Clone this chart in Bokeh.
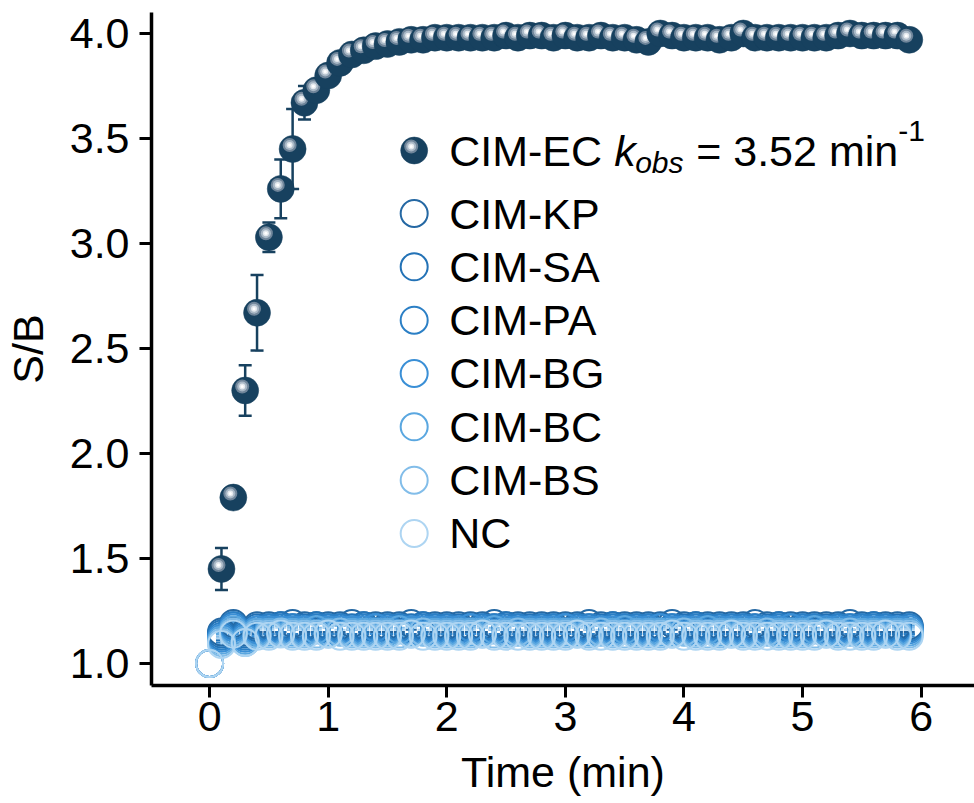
from bokeh.plotting import figure
from bokeh.models import Range1d, FixedTicker, PrintfTickFormatter, ColumnDataSource, Whisker, TeeHead
from bokeh.core.properties import value
from bokeh.embed import file_html
from bokeh.resources import INLINE

FONT = "Liberation Sans"

# sampling times (min)
time_all = [0.0, 0.1, 0.2, 0.3, 0.4, 0.5, 0.6, 0.7, 0.8, 0.9,
            1.0, 1.1, 1.2, 1.3, 1.4, 1.5, 1.6, 1.7, 1.8, 1.9,
            2.0, 2.1, 2.2, 2.3, 2.4, 2.5, 2.6, 2.7, 2.8, 2.9,
            3.0, 3.1, 3.2, 3.3, 3.4, 3.5, 3.6, 3.7, 3.8, 3.9,
            4.0, 4.1, 4.2, 4.3, 4.4, 4.5, 4.6, 4.7, 4.8, 4.9,
            5.0, 5.1, 5.2, 5.3, 5.4, 5.5, 5.6, 5.7, 5.8, 5.9]
time_ec = time_all[1:]

# CIM-EC signal/background (t = 0.1 ... 5.9)
sb_ec = [1.45, 1.79, 2.30, 2.67, 3.03, 3.26, 3.45, 3.67, 3.73,
         3.80, 3.86, 3.90, 3.92, 3.94, 3.95, 3.96, 3.97, 3.97, 3.98,
         3.98, 3.98, 3.98, 3.98, 3.98, 3.99, 3.98, 3.99, 3.99, 3.98,
         3.99, 3.98, 3.98, 3.99, 3.98, 3.98, 3.97, 3.96, 4.00, 3.99,
         3.98, 3.98, 3.98, 3.97, 3.98, 4.00, 3.98, 3.98, 3.98, 3.98,
         3.98, 3.98, 3.98, 3.99, 4.00, 3.99, 3.99, 3.99, 3.99, 3.97]
err_ec = [0.10, 0.02, 0.12, 0.18, 0.07, 0.14, 0.19, 0.08, 0.04,
          0.03, 0.02, 0.02, 0.01, 0.01, 0.01, 0.01, 0.01, 0.01, 0.01,
          0.01, 0.01, 0.01, 0.01, 0.01, 0.01, 0.01, 0.01, 0.01, 0.01,
          0.01, 0.01, 0.01, 0.01, 0.01, 0.01, 0.01, 0.01, 0.01, 0.01,
          0.01, 0.01, 0.01, 0.01, 0.01, 0.01, 0.01, 0.01, 0.01, 0.01,
          0.01, 0.01, 0.01, 0.01, 0.01, 0.01, 0.01, 0.01, 0.01, 0.01]

# other strains and the negative control (t = 0 ... 5.9)
sb_kp = [1.00, 1.15, 1.19, 1.15, 1.18, 1.18, 1.18, 1.19, 1.18, 1.18,
         1.18, 1.18, 1.19, 1.18, 1.18, 1.18, 1.18, 1.19, 1.18, 1.18,
         1.18, 1.18, 1.18, 1.18, 1.19, 1.18, 1.18, 1.18, 1.18, 1.18,
         1.18, 1.18, 1.19, 1.18, 1.18, 1.18, 1.18, 1.18, 1.18, 1.19,
         1.18, 1.18, 1.18, 1.18, 1.18, 1.18, 1.19, 1.18, 1.18, 1.18,
         1.18, 1.18, 1.18, 1.18, 1.19, 1.18, 1.18, 1.18, 1.18, 1.18]
sb_sa = [1.00, 1.14, 1.18, 1.14, 1.17, 1.17, 1.18, 1.17, 1.17, 1.18,
         1.17, 1.17, 1.17, 1.18, 1.17, 1.17, 1.17, 1.17, 1.18, 1.17,
         1.17, 1.17, 1.17, 1.17, 1.17, 1.18, 1.17, 1.17, 1.17, 1.17,
         1.17, 1.17, 1.17, 1.17, 1.18, 1.17, 1.17, 1.17, 1.17, 1.17,
         1.17, 1.18, 1.17, 1.17, 1.17, 1.17, 1.17, 1.17, 1.18, 1.17,
         1.17, 1.17, 1.17, 1.17, 1.17, 1.17, 1.18, 1.17, 1.17, 1.17]
sb_pa = [1.00, 1.13, 1.18, 1.13, 1.16, 1.17, 1.17, 1.17, 1.16, 1.17,
         1.17, 1.17, 1.16, 1.17, 1.17, 1.17, 1.17, 1.16, 1.17, 1.17,
         1.17, 1.16, 1.17, 1.17, 1.17, 1.17, 1.17, 1.16, 1.17, 1.17,
         1.17, 1.17, 1.17, 1.16, 1.17, 1.17, 1.17, 1.17, 1.17, 1.17,
         1.16, 1.17, 1.17, 1.17, 1.17, 1.17, 1.17, 1.16, 1.17, 1.17,
         1.17, 1.17, 1.16, 1.17, 1.17, 1.17, 1.17, 1.17, 1.16, 1.17]
sb_bg = [1.00, 1.12, 1.17, 1.12, 1.16, 1.16, 1.16, 1.16, 1.16, 1.16,
         1.16, 1.16, 1.16, 1.16, 1.17, 1.16, 1.16, 1.16, 1.16, 1.16,
         1.16, 1.16, 1.17, 1.16, 1.16, 1.16, 1.16, 1.16, 1.16, 1.16,
         1.17, 1.16, 1.16, 1.16, 1.16, 1.16, 1.16, 1.16, 1.17, 1.16,
         1.16, 1.16, 1.16, 1.16, 1.16, 1.16, 1.16, 1.16, 1.16, 1.17,
         1.16, 1.16, 1.16, 1.16, 1.16, 1.16, 1.16, 1.16, 1.16, 1.16]
sb_bc = [1.00, 1.11, 1.16, 1.11, 1.15, 1.15, 1.15, 1.15, 1.15, 1.16,
         1.15, 1.15, 1.15, 1.15, 1.15, 1.15, 1.16, 1.15, 1.15, 1.15,
         1.15, 1.15, 1.15, 1.15, 1.16, 1.15, 1.15, 1.15, 1.15, 1.15,
         1.15, 1.15, 1.15, 1.15, 1.15, 1.16, 1.15, 1.15, 1.15, 1.15,
         1.15, 1.15, 1.16, 1.15, 1.15, 1.15, 1.15, 1.15, 1.15, 1.15,
         1.15, 1.16, 1.15, 1.15, 1.15, 1.15, 1.15, 1.15, 1.15, 1.15]
sb_bs = [1.00, 1.10, 1.15, 1.10, 1.14, 1.14, 1.15, 1.14, 1.14, 1.14,
         1.14, 1.15, 1.14, 1.14, 1.14, 1.14, 1.14, 1.14, 1.15, 1.14,
         1.14, 1.14, 1.14, 1.14, 1.14, 1.14, 1.15, 1.14, 1.14, 1.14,
         1.14, 1.14, 1.14, 1.15, 1.14, 1.14, 1.14, 1.14, 1.14, 1.14,
         1.15, 1.14, 1.14, 1.14, 1.14, 1.14, 1.14, 1.15, 1.14, 1.14,
         1.14, 1.14, 1.14, 1.14, 1.15, 1.14, 1.14, 1.14, 1.14, 1.14]
sb_nc = [1.00, 1.09, 1.14, 1.10, 1.13, 1.13, 1.14, 1.13, 1.13, 1.13,
         1.14, 1.13, 1.13, 1.13, 1.13, 1.13, 1.13, 1.14, 1.13, 1.13,
         1.13, 1.13, 1.13, 1.14, 1.13, 1.13, 1.13, 1.13, 1.13, 1.13,
         1.13, 1.14, 1.13, 1.13, 1.13, 1.13, 1.13, 1.13, 1.13, 1.14,
         1.13, 1.13, 1.13, 1.13, 1.14, 1.13, 1.13, 1.13, 1.13, 1.13,
         1.13, 1.13, 1.14, 1.13, 1.13, 1.13, 1.13, 1.14, 1.13, 1.13]

open_names = ["CIM-KP", "CIM-SA", "CIM-PA", "CIM-BG", "CIM-BC", "CIM-BS", "NC"]
open_values = [sb_kp, sb_sa, sb_pa, sb_bg, sb_bc, sb_bs, sb_nc]
# typical standard deviation after t = 0 (t = 0 is the normalisation point, no bar)
open_errors = [0.03, 0.03, 0.03, 0.03, 0.03, 0.03, 0.03]
open_colors = ["#2568a3", "#2372b6", "#2b7fc5", "#3a8fd6", "#5aa7e0", "#82bde9", "#aed5f2"]

ec_name = "CIM-EC"
ec_kobs = "3.52"
EC_COLOR = "#17415f"
# glossy highlight layers drawn on each EC sphere: (size px, colour)
highlight = [(14, "#6f859a"), (10, "#a9b8c6"), (6, "#e4e9ee"), (3, "#ffffff")]

x_ticks = [0, 1, 2, 3, 4, 5, 6]
y_ticks = [1.0, 1.5, 2.0, 2.5, 3.0, 3.5, 4.0]

X0, X1 = -0.49, 6.45
Y0, Y1 = 0.895, 4.10
W, H = 974, 803
BL, BR, BT, BB = 150, 0, 12, 118
px_x = (W - BL - BR) / (X1 - X0)
px_y = (H - BT - BB) / (Y1 - Y0)

p = figure(width=W, height=H, x_range=Range1d(X0, X1), y_range=Range1d(Y0, Y1),
           output_backend="svg", toolbar_location=None,
           min_border_left=BL, min_border_right=BR, min_border_top=BT, min_border_bottom=BB)
p.outline_line_color = None
p.xgrid.visible = False
p.ygrid.visible = False
p.background_fill_color = "white"
p.border_fill_color = "white"

for ax in (p.xaxis[0], p.yaxis[0]):
    ax.axis_line_width = 3.5
    ax.axis_line_color = "black"
    ax.major_tick_line_width = 3
    ax.major_tick_line_color = "black"
    ax.major_tick_out = 12
    ax.major_tick_in = 0
    ax.minor_tick_line_color = None
    ax.major_label_text_font = FONT
    ax.major_label_text_font_size = "43px"
    ax.major_label_text_color = "black"
    ax.axis_label_text_font = FONT
    ax.axis_label_text_font_size = "43px"
    ax.axis_label_text_font_style = "normal"
    ax.axis_label_text_color = "black"

p.xaxis.ticker = FixedTicker(ticks=x_ticks)
p.yaxis.ticker = FixedTicker(ticks=y_ticks)
p.yaxis.formatter = PrintfTickFormatter(format="%.1f")
p.xaxis.axis_label = "Time (min)"
p.yaxis.axis_label = "S/B"
p.xaxis.major_label_standoff = 4
p.xaxis.axis_label_standoff = 14
p.yaxis.major_label_standoff = 10
p.yaxis.axis_label_standoff = 15

# open-circle series with their error bars
for name, vals, err, col in zip(open_names, open_values, open_errors, open_colors):
    src = ColumnDataSource(dict(t=time_all, v=vals))
    bar_src = ColumnDataSource(dict(t=time_all[1:],
                                    lo=[v - err for v in vals[1:]],
                                    hi=[v + err for v in vals[1:]]))
    p.add_layout(Whisker(source=bar_src, base="t", lower="lo", upper="hi", dimension="height",
                         line_color=col, line_width=2, level="underlay",
                         upper_head=TeeHead(size=11, line_color=col, line_width=2),
                         lower_head=TeeHead(size=11, line_color=col, line_width=2)))
    p.scatter("t", "v", source=src, size=27, fill_color=None, line_color=col, line_width=2)

# CIM-EC error bars, then each sphere drawn in turn so the next one overlaps it
ec_src = ColumnDataSource(dict(t=time_ec, v=sb_ec,
                               lo=[v - e for v, e in zip(sb_ec, err_ec)],
                               hi=[v + e for v, e in zip(sb_ec, err_ec)]))
p.add_layout(Whisker(source=ec_src, base="t", lower="lo", upper="hi", dimension="height",
                     line_color=EC_COLOR, line_width=2.5, level="underlay",
                     upper_head=TeeHead(size=13, line_color=EC_COLOR, line_width=2.5),
                     lower_head=TeeHead(size=13, line_color=EC_COLOR, line_width=2.5)))

dx = -3.0 / px_x
dy = 4.0 / px_y


def sphere(tx, ty):
    p.scatter([tx], [ty], size=27, fill_color=EC_COLOR, line_color=EC_COLOR, line_width=0.5)
    for sz, col in highlight:
        p.scatter([tx + dx], [ty + dy], size=sz, fill_color=col, line_color=None)


for t, v in zip(time_ec, sb_ec):
    sphere(t, v)

# legend block
leg_x = X0 + (413 - BL) / px_x
leg_y_ec = Y1 - (150 - BT) / px_y
leg_y0 = Y1 - (213 - BT) / px_y
leg_step = 53.33 / px_y
TXT = dict(text_font=value(FONT), text_baseline="alphabetic", text_align="left", text_color="black")
BASE = 0

sphere(leg_x, leg_y_ec)
p.text([leg_x], [leg_y_ec], text=[ec_name], x_offset=35, y_offset=BASE, text_font_size="43px", **TXT)
p.text([leg_x], [leg_y_ec], text=["k"], x_offset=200, y_offset=BASE, text_font_size="43px",
       text_font_style="italic", **TXT)
p.text([leg_x], [leg_y_ec], text=["obs"], x_offset=221, y_offset=BASE + 12, text_font_size="30px",
       text_font_style="italic", **TXT)
p.text([leg_x], [leg_y_ec], text=["= " + ec_kobs + " min"], x_offset=282, y_offset=BASE,
       text_font_size="43px", **TXT)
p.text([leg_x], [leg_y_ec], text=["-1"], x_offset=484, y_offset=BASE - 20, text_font_size="30px", **TXT)

for i, (name, col) in enumerate(zip(open_names, open_colors)):
    ly = leg_y0 - i * leg_step
    p.scatter([leg_x], [ly], size=27, fill_color=None, line_color=col, line_width=2)
    p.text([leg_x], [ly], text=[name], x_offset=35, y_offset=BASE, text_font_size="43px", **TXT)

open("out.html", "w").write(file_html(p, INLINE))
